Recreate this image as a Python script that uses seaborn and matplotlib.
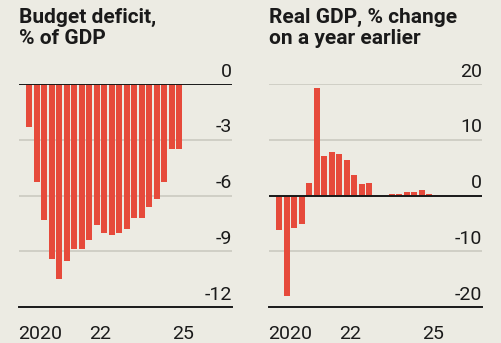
import numpy as np
import pandas as pd
import seaborn as sns
import matplotlib.pyplot as plt

# quarterly data, 2020Q1 onwards
deficit = [-2.3, -5.3, -7.3, -9.4, -10.5, -9.5, -8.9, -8.9, -8.4, -7.6, -8.0,
           -8.1, -8.0, -7.8, -7.2, -7.2, -6.6, -6.2, -5.3, -3.5, -3.5]
gdp = [-6.2, -18.0, -5.9, -5.2, 2.3, 19.2, 7.1, 7.8, 7.4, 6.3, 3.6,
       2.0, 2.3, 0.0, 0.0, 0.3, 0.3, 0.6, 0.65, 0.95, 0.2, 0.1]
deficit_q = [f'{y}Q{q}' for y in range(2020, 2026) for q in range(1, 5)][:len(deficit)]
gdp_q = [f'{y}Q{q}' for y in range(2020, 2026) for q in range(1, 5)][:len(gdp)]

titles = ['Budget deficit,\n% of GDP', 'Real GDP, % change\non a year earlier']
yticks = [[-12, -9, -6, -3, 0], [-20, -10, 0, 10, 20]]
year_ticks = [2020, 2021, 2022, 2023, 2024, 2025, 2025.5]
year_labels = {2020.5: '2020', 2022.5: '22', 2025.25: '25'}

bg = '#ecebe3'
red = '#e64a3b'
grid = '#c8c7be'
ink = '#1a1a1a'

sns.set_theme(style='white')
plt.rcParams['font.family'] = ['Roboto', 'DejaVu Sans']


def to_year(q):
    p = pd.Period(q, freq='Q')
    return p.year + (p.quarter - 0.5) / 4


fig = plt.figure(figsize=(5.01, 3.43), dpi=100, facecolor=bg)
axes = [fig.add_axes([19 / 501, 36 / 343, 213 / 501, 223 / 343]),
        fig.add_axes([269 / 501, 36 / 343, 213 / 501, 223 / 343])]

panels = [(deficit_q, deficit), (gdp_q, gdp)]
for i, ax in enumerate(axes):
    qs, vals = panels[i]
    df = pd.DataFrame({'x': [to_year(q) for q in qs], 'y': vals})
    sns.barplot(data=df, x='x', y='y', native_scale=True, color=red,
                saturation=1, width=0.82, linewidth=0, ax=ax)
    ax.set_facecolor(bg)
    ax.set_xlim(2019.78, 2026.88)
    ax.set_ylim(yticks[i][0], yticks[i][-1])
    ax.set_yticks(yticks[i])
    ax.grid(axis='y', color=grid, lw=1.1)
    ax.set_axisbelow(True)
    ax.axhline(0, color=ink, lw=1.4, zorder=5)
    for s in ['top', 'left', 'right']:
        ax.spines[s].set_visible(False)
    ax.spines['bottom'].set_color(ink)
    ax.spines['bottom'].set_linewidth(1.4)
    ax.tick_params(axis='y', length=0, labelleft=False)
    ax.set_xticks(year_ticks)
    ax.set_xticklabels([])
    ax.set_xticks(list(year_labels), minor=True)
    ax.set_xticklabels(list(year_labels.values()), minor=True)
    ax.tick_params(axis='x', which='major', length=6, width=1.1, color=ink, direction='out')
    ax.tick_params(axis='x', which='minor', length=0, pad=13, labelsize=14, labelcolor=ink)
    ax.set_xlabel('')
    ax.set_ylabel('')
    for v in yticks[i]:
        ax.annotate(str(v), xy=(1, v), xycoords=('axes fraction', 'data'),
                    xytext=(0, 2.5), textcoords='offset points', ha='right', va='bottom',
                    fontsize=14, color=ink, annotation_clip=False)
    fig.text(ax.get_position().x0, 1 - 8 / 343, titles[i], ha='left', va='top',
             fontsize=15, fontweight='bold', color=ink, linespacing=1.15)

fig.savefig('out.png', dpi=100, facecolor=bg)
